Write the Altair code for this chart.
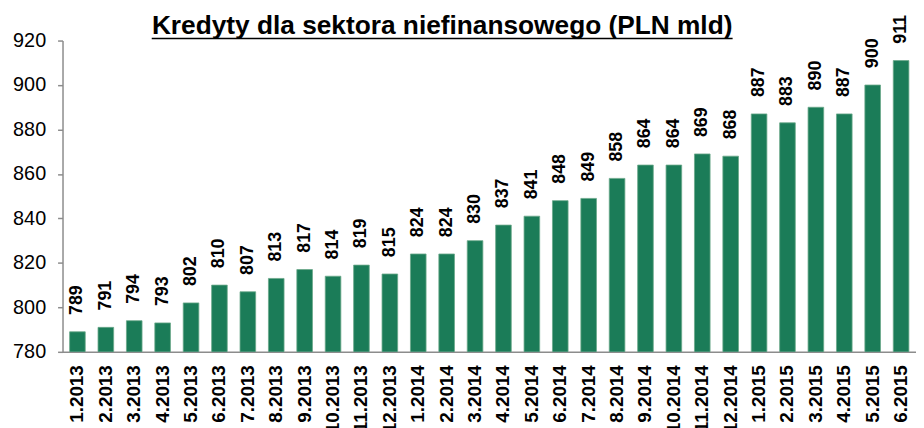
import altair as alt
import pandas as pd

months = [
    "1.2013", "2.2013", "3.2013", "4.2013", "5.2013", "6.2013",
    "7.2013", "8.2013", "9.2013", "10.2013", "11.2013", "12.2013",
    "1.2014", "2.2014", "3.2014", "4.2014", "5.2014", "6.2014",
    "7.2014", "8.2014", "9.2014", "10.2014", "11.2014", "12.2014",
    "1.2015", "2.2015", "3.2015", "4.2015", "5.2015", "6.2015",
]
values = [
    789, 791, 794, 793, 802, 810, 807, 813, 817, 814, 819, 815,
    824, 824, 830, 837, 841, 848, 849, 858, 864, 864, 869, 868,
    887, 883, 890, 887, 900, 911,
]
y_ticks = [780, 800, 820, 840, 860, 880, 900, 920]
title_text = "Kredyty dla sektora niefinansowego (PLN mld)"

df = pd.DataFrame({"month": months, "value": values})

FONT = "Liberation Sans"
GREEN = "#1b7c58"
AXIS_GRAY = "#8c8c8c"

x_enc = alt.X(
    "month:N",
    sort=months,
    scale=alt.Scale(paddingInner=0.45, paddingOuter=0.25),
    axis=alt.Axis(
        title=None,
        labelAngle=270,
        labelAlign="right",
        labelBaseline="middle",
        labelFont=FONT,
        labelFontWeight="bold",
        labelFontSize=19,
        labelColor="black",
        labelPadding=13,
        labelOverlap=False,
        labelBound=False,
        ticks=False,
        domainColor=AXIS_GRAY,
        domainWidth=1.5,
    ),
)
y_enc = alt.Y(
    "value:Q",
    scale=alt.Scale(domain=[780, 920], zero=False, nice=False),
    axis=alt.Axis(
        title=None,
        values=y_ticks,
        grid=False,
        labelFont=FONT,
        labelFontSize=20,
        labelColor="black",
        labelPadding=12,
        tickSize=5,
        tickColor=AXIS_GRAY,
        tickWidth=1.5,
        domainColor=AXIS_GRAY,
        domainWidth=1.5,
    ),
)

base = alt.Chart(df).encode(x=x_enc, y=y_enc)

bars = base.mark_bar(color=GREEN, stroke="#6aa88a", strokeWidth=0.8, clip=True)

labels = base.mark_text(
    angle=270,
    align="left",
    baseline="middle",
    dx=17,
    font=FONT,
    fontWeight="bold",
    fontSize=18,
    color="black",
).encode(text="value:Q")

title_df = pd.DataFrame({"t": [title_text]})
title_mark = alt.Chart(title_df).mark_text(
    font=FONT,
    fontSize=26.5,
    fontWeight="bold",
    color="black",
    align="center",
    baseline="alphabetic",
).encode(text="t:N", x=alt.value(383), y=alt.value(-7))

underline = alt.Chart(title_df).mark_rule(
    color="black", strokeWidth=1.5
).encode(x=alt.value(90), x2=alt.value(676), y=alt.value(-2))

chart = (
    alt.layer(bars, labels, title_mark, underline)
    .properties(
        width=861,
        height=314,
        autosize=alt.AutoSizeParams(type="none"),
        padding={"left": 55, "top": 31, "right": 0, "bottom": 75},
    )
    .configure_view(stroke=None)
)

chart.save("out.html", embed_options={"renderer": "svg", "actions": False})
